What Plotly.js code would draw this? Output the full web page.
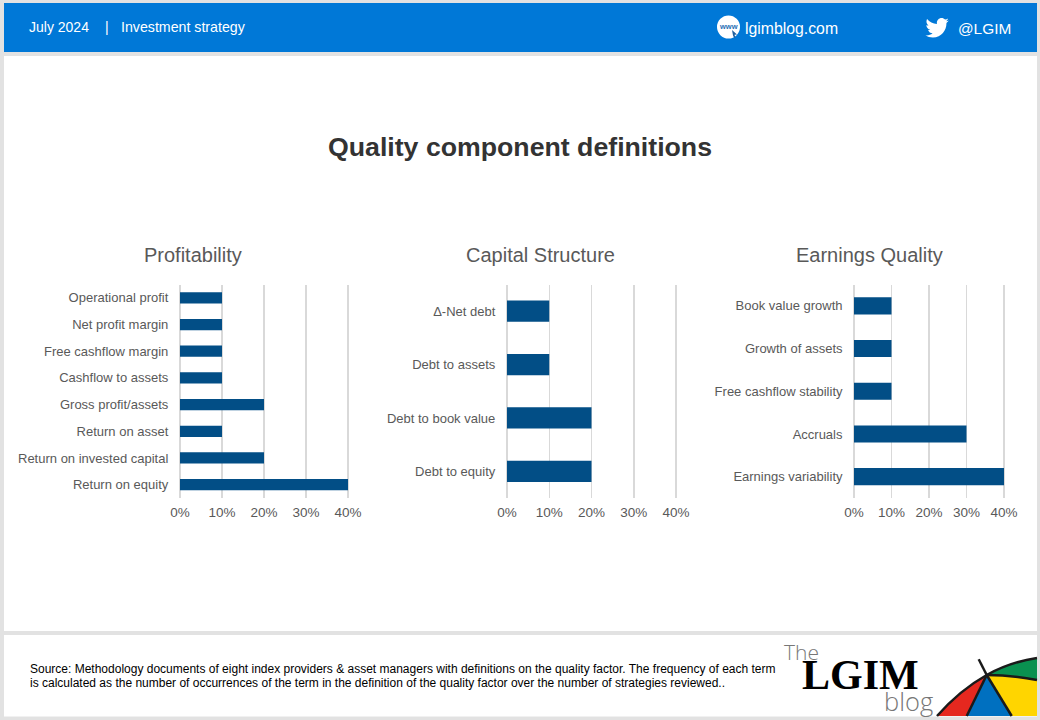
<!DOCTYPE html>
<html><head><meta charset="utf-8">
<script src="https://cdn.plot.ly/plotly-3.0.1.min.js"></script>
<style>html,body{margin:0;padding:0;background:#e2e2e2}#chart{width:1040px;height:720px}</style>
</head><body><div id="chart"></div>
<script>
const profitabilityLabels = ["Operational profit","Net profit margin","Free cashflow margin","Cashflow to assets","Gross profit/assets","Return on asset","Return on invested capital","Return on equity"];
const profitabilityValues = [10,10,10,10,20,10,20,40];
const capitalLabels = ["Δ-Net debt","Debt to assets","Debt to book value","Debt to equity"];
const capitalValues = [10,10,20,20];
const earningsLabels = ["Book value growth","Growth of assets","Free cashflow stability","Accruals","Earnings variability"];
const earningsValues = [10,10,10,30,40];
const tickValues = [0,10,20,30,40];
const tickLabels = ["0%","10%","20%","30%","40%"];

const W=1040,H=720,FONT='"Liberation Sans", Arial, sans-serif';
const fx=x=>x/W, fy=y=>1-y/H;
const BAR='#024e86', GRID='#d9d9d9', TXT='#595959';

const panels=[
 {labels:profitabilityLabels,values:profitabilityValues,x0:180,x1:348,gap:0.58,title:'Profitability',cx:192.5},
 {labels:capitalLabels,values:capitalValues,x0:507,x1:676,gap:0.6,title:'Capital Structure',cx:540.5},
 {labels:earningsLabels,values:earningsValues,x0:854,x1:1004,gap:0.6,title:'Earnings Quality',cx:869}
];

const data=[], layout={
 width:W,height:H,margin:{l:0,r:0,t:0,b:0},paper_bgcolor:'#e2e2e2',plot_bgcolor:'rgba(0,0,0,0)',
 showlegend:false,font:{family:FONT,color:TXT,size:13},hovermode:false,barmode:'overlay',
 shapes:[],annotations:[]
};

function rect(x0,y0,x1,y1,color){layout.shapes.push({type:'rect',xref:'paper',yref:'paper',x0:fx(x0),x1:fx(x1),y0:fy(y0),y1:fy(y1),fillcolor:color,line:{width:0},layer:'below'});}
function path(pts,fill,lw,lc,layer){
  const s=pts.map(p=>typeof p==='string'?p:fx(p[0])+','+fy(p[1])).join(' ');
  layout.shapes.push({type:'path',xref:'paper',yref:'paper',path:s,fillcolor:fill||'rgba(0,0,0,0)',line:{width:lw||0,color:lc||'rgba(0,0,0,0)'},layer:layer||'above'});
}
function text(t,x,y,size,color,anchor,extra){layout.annotations.push(Object.assign({text:t,xref:'paper',yref:'paper',x:fx(x),y:fy(y),xanchor:anchor||'left',yanchor:'middle',showarrow:false,borderpad:0,font:{family:FONT,size:size,color:color}},extra||{}));}

rect(4,3,1037,52,'#0078d7');
rect(4,56,1037,631,'#ffffff');
rect(4,635,1037,716.5,'#ffffff');

panels.forEach((p,i)=>{
  const n=i===0?'':String(i+1);
  // the range runs 1% past both ends so the 0% and 40% gridlines are drawn
  const pad=(p.x1-p.x0)*0.01;
  data.push({type:'bar',orientation:'h',x:p.values,y:p.labels,xaxis:'x'+n,yaxis:'y'+n,marker:{color:BAR,line:{width:0}},width:1-p.gap,hoverinfo:'skip'});
  layout['xaxis'+n]={domain:[fx(p.x0-pad),fx(p.x1+pad)],range:[-0.4,40.4],anchor:'y'+n,tickmode:'array',tickvals:tickValues,ticktext:tickLabels,showgrid:true,gridcolor:GRID,gridwidth:1.5,zeroline:false,showline:false,ticks:'',tickfont:{family:FONT,size:13.5,color:TXT},ticklabelstandoff:4,fixedrange:true};
  layout['yaxis'+n]={domain:[fy(498),fy(284.5)],anchor:'x'+n,type:'category',autorange:'reversed',showgrid:false,zeroline:false,showline:false,ticks:'',tickfont:{family:FONT,size:13,color:TXT},ticklabelstandoff:9,fixedrange:true};
  text(p.title,p.cx,255,20,TXT,'center');
});

text('Quality component definitions',520,146.5,26.7,'#333333','center',{font:{family:FONT,size:26.7,color:'#333333',weight:700}});
text('July 2024',28,27,14,'#ffffff');
text('|',107,27,14,'#ffffff','center');
text('Investment strategy',119.5,27,14.2,'#ffffff');
text('lgimblog.com',744,28.5,15.8,'#ffffff');
text('@LGIM',956.5,28.5,15.4,'#ffffff');

layout.shapes.push({type:'circle',xref:'paper',yref:'paper',x0:fx(717),x1:fx(740),y0:fy(15.5),y1:fy(38.5),fillcolor:'#ffffff',line:{width:0},layer:'above'});
text('www',728.5,27,7.5,'#0078d7','center',{font:{family:FONT,size:7.5,color:'#2a6fb5',weight:700}});
path(['M',[732,30],'L',[737,34.5],'L',[734.5,34.8],'L',[735.5,37.5],'L',[734,37.5],'L',[733,35.5],'Z'],'#1f5f9e');

const bird=[[ 'M',24,4.6],['C',23.1,5,22.1,5.3,21.1,5.4],['C',22.2,4.7,23,3.7,23.3,2.6],['C',22.3,3.2,21.3,3.6,20.2,3.8],['C',19.3,2.8,18,2.2,16.6,2.2],['C',13.9,2.2,11.7,4.4,11.7,7.1],['C',11.7,7.5,11.8,7.9,11.8,8.2],['C',7.7,8,4.1,6.1,1.6,3.2],['C',1.2,3.9,1,4.8,1,5.6],['C',1,7.3,1.9,8.8,3.2,9.7],['C',2.4,9.7,1.6,9.5,0.9,9.1],['L',0.9,9.2],['C',0.9,11.6,2.6,13.5,4.9,14],['C',4.2,14.2,3.4,14.2,2.7,14.1],['C',3.3,16.1,5.1,17.4,7.3,17.5],['C',5.6,18.8,3.5,19.6,1.2,19.6],['C',0.8,19.6,0.4,19.6,0,19.5],['C',2.2,20.9,4.8,21.7,7.6,21.7],['C',16.6,21.7,21.6,14.2,21.6,7.7],['C',21.6,7.5,21.6,7.3,21.6,7.1],['C',22.5,6.4,23.4,5.6,24,4.6]];
const birdTokens=[];
bird.forEach(seg=>{birdTokens.push(seg[0]);for(let k=1;k<seg.length;k+=2){birdTokens.push([925.5+seg[k]*0.97,15.8+seg[k+1]*1.0]);}});
birdTokens.push('Z');
path(birdTokens,'#ffffff');

text('Source: Methodology documents of eight index providers &amp; asset managers with definitions on the quality factor. The frequency of each term',29,668.5,12,'#000000');
text('is calculated as the number of occurrences of the term in the definition of the quality factor over the number of strategies reviewed..',29,683,12,'#000000');

text('The',783,651.5,21,'#777777','left',{font:{family:'"Open Sans", "Liberation Sans", sans-serif',size:21,color:'#777777',weight:300}});
text('LGIM',801,675,42,'#000000','left',{font:{family:'"Liberation Serif", serif',size:42,color:'#000000',weight:700}});
text('blog',883,701,25.5,'#777777','left',{font:{family:'"Open Sans", "Liberation Sans", sans-serif',size:25.5,color:'#777777',weight:300}});

const A=[986.7,675];
path(['M',[937,716],'Q',[960,690],A,'L',[966.7,716],'Z'],'#e5281f');
path(['M',[966.7,716],'L',A,'L',[1011.7,716],'Z'],'#0070c0');
path(['M',A,'L',[1011.7,716],'L',[1037,716],'L',[1037,680],'Q',[1012,675],A,'Z'],'#ffd500');
path(['M',A,'Q',[1010,662],[1037,658],'L',[1037,680],'Q',[1012,675],A,'Z'],'#0a9150');
path(['M',[937,716],'Q',[960,690],A,'Q',[1010,662],[1037,658]],null,2.5,'#1a1a1a');
path(['M',[966.7,716],'L',A],null,2.5,'#1a1a1a');
path(['M',[1011.7,716],'L',A],null,2.5,'#1a1a1a');
path(['M',A,'Q',[1012,675],[1037,680]],null,2.5,'#1a1a1a');
path(['M',[978.7,659.3],'L',A],null,2.5,'#1a1a1a');

Plotly.newPlot('chart',data,layout,{displayModeBar:false,staticPlot:true});
</script></body></html>
